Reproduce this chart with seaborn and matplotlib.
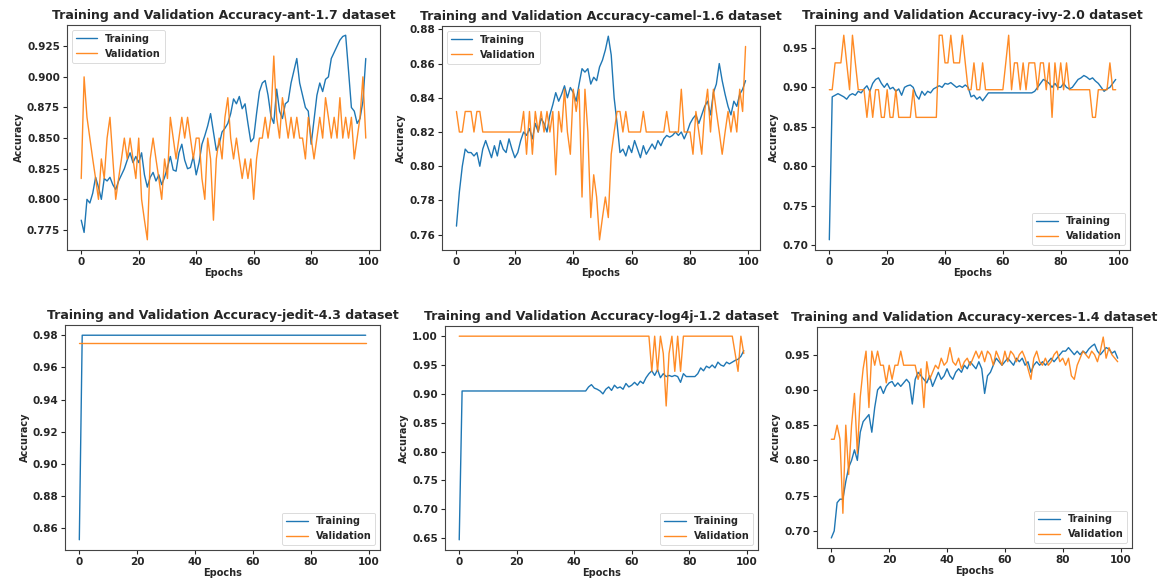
import matplotlib
matplotlib.use("Agg")
import matplotlib.pyplot as plt
import seaborn as sns
import numpy as np
import pandas as pd

sns.set_style("ticks")
plt.rcParams['font.family'] = ['DejaVu Sans']
plt.rcParams['font.weight'] = 'bold'
plt.rcParams['axes.labelweight'] = 'bold'
plt.rcParams['axes.titleweight'] = 'bold'

epochs = list(range(100))

ant_train = [0.783, 0.773, 0.800, 0.797, 0.805, 0.818, 0.810, 0.800, 0.817, 0.815,
             0.818, 0.812, 0.808, 0.815, 0.820, 0.825, 0.832, 0.838, 0.830, 0.835,
             0.830, 0.838, 0.820, 0.810, 0.818, 0.822, 0.815, 0.820, 0.812, 0.818,
             0.826, 0.835, 0.824, 0.823, 0.838, 0.845, 0.832, 0.825, 0.826, 0.835,
             0.820, 0.830, 0.845, 0.852, 0.860, 0.870, 0.855, 0.840, 0.845, 0.855,
             0.858, 0.862, 0.870, 0.882, 0.878, 0.884, 0.874, 0.878, 0.862, 0.847,
             0.850, 0.870, 0.888, 0.895, 0.897, 0.885, 0.868, 0.862, 0.890, 0.872,
             0.866, 0.878, 0.880, 0.895, 0.905, 0.915, 0.895, 0.885, 0.875, 0.872,
             0.845, 0.865, 0.885, 0.895, 0.888, 0.898, 0.900, 0.915, 0.920, 0.925,
             0.930, 0.933, 0.934, 0.905, 0.875, 0.872, 0.862, 0.866, 0.880, 0.915]
ant_val = [0.817, 0.900, 0.867, 0.850, 0.833, 0.817, 0.800, 0.833, 0.817, 0.850,
           0.867, 0.833, 0.800, 0.817, 0.833, 0.850, 0.833, 0.850, 0.833, 0.817,
           0.850, 0.800, 0.783, 0.767, 0.833, 0.850, 0.833, 0.817, 0.800, 0.833,
           0.817, 0.867, 0.850, 0.833, 0.850, 0.867, 0.850, 0.867, 0.850, 0.833,
           0.850, 0.850, 0.817, 0.800, 0.850, 0.833, 0.783, 0.833, 0.850, 0.833,
           0.867, 0.883, 0.850, 0.833, 0.850, 0.833, 0.817, 0.833, 0.817, 0.833,
           0.800, 0.833, 0.850, 0.850, 0.867, 0.850, 0.867, 0.917, 0.867, 0.850,
           0.883, 0.867, 0.850, 0.867, 0.850, 0.867, 0.850, 0.850, 0.833, 0.867,
           0.850, 0.833, 0.850, 0.867, 0.850, 0.883, 0.867, 0.850, 0.867, 0.850,
           0.883, 0.850, 0.867, 0.850, 0.867, 0.833, 0.850, 0.867, 0.900, 0.850]

camel_train = [0.765, 0.785, 0.800, 0.810, 0.808, 0.808, 0.806, 0.808, 0.800, 0.810,
               0.815, 0.810, 0.805, 0.812, 0.806, 0.815, 0.810, 0.808, 0.816, 0.810,
               0.805, 0.808, 0.815, 0.820, 0.818, 0.822, 0.816, 0.825, 0.820, 0.828,
               0.825, 0.820, 0.830, 0.836, 0.843, 0.838, 0.842, 0.847, 0.840, 0.846,
               0.843, 0.838, 0.848, 0.857, 0.855, 0.857, 0.848, 0.852, 0.850, 0.858,
               0.862, 0.868, 0.876, 0.865, 0.840, 0.825, 0.808, 0.810, 0.806, 0.812,
               0.808, 0.815, 0.810, 0.805, 0.812, 0.807, 0.810, 0.813, 0.810, 0.815,
               0.812, 0.816, 0.818, 0.817, 0.818, 0.820, 0.818, 0.820, 0.816, 0.820,
               0.825, 0.828, 0.830, 0.825, 0.830, 0.835, 0.838, 0.830, 0.843, 0.848,
               0.860, 0.850, 0.842, 0.835, 0.830, 0.838, 0.835, 0.842, 0.845, 0.850]
camel_val = [0.832, 0.820, 0.820, 0.832, 0.832, 0.832, 0.820, 0.832, 0.832, 0.820,
             0.820, 0.820, 0.820, 0.820, 0.820, 0.820, 0.820, 0.820, 0.820, 0.820,
             0.820, 0.820, 0.820, 0.832, 0.807, 0.832, 0.807, 0.832, 0.820, 0.832,
             0.820, 0.832, 0.820, 0.832, 0.795, 0.832, 0.820, 0.845, 0.820, 0.807,
             0.845, 0.832, 0.845, 0.782, 0.845, 0.820, 0.770, 0.795, 0.782, 0.757,
             0.770, 0.782, 0.770, 0.807, 0.820, 0.832, 0.832, 0.820, 0.832, 0.820,
             0.820, 0.820, 0.820, 0.820, 0.832, 0.820, 0.820, 0.820, 0.820, 0.820,
             0.820, 0.820, 0.832, 0.820, 0.820, 0.820, 0.820, 0.845, 0.820, 0.820,
             0.820, 0.807, 0.832, 0.820, 0.807, 0.832, 0.845, 0.820, 0.845, 0.832,
             0.820, 0.807, 0.820, 0.832, 0.820, 0.832, 0.820, 0.845, 0.832, 0.870]

ivy_train = [0.707, 0.888, 0.890, 0.892, 0.890, 0.888, 0.885, 0.890, 0.892, 0.890,
             0.895, 0.893, 0.898, 0.902, 0.895, 0.905, 0.910, 0.912, 0.905, 0.900,
             0.905, 0.898, 0.900, 0.895, 0.898, 0.890, 0.900, 0.902, 0.903, 0.900,
             0.890, 0.885, 0.895, 0.890, 0.895, 0.893, 0.898, 0.900, 0.902, 0.900,
             0.905, 0.904, 0.906, 0.903, 0.900, 0.902, 0.900, 0.903, 0.900, 0.888,
             0.890, 0.885, 0.888, 0.883, 0.888, 0.893, 0.893, 0.893, 0.893, 0.893,
             0.893, 0.893, 0.893, 0.893, 0.893, 0.893, 0.893, 0.893, 0.893, 0.893,
             0.893, 0.895, 0.900, 0.905, 0.910, 0.908, 0.905, 0.900, 0.905, 0.900,
             0.900, 0.905, 0.900, 0.898, 0.900, 0.905, 0.910, 0.912, 0.915, 0.913,
             0.910, 0.912, 0.908, 0.905, 0.900, 0.895, 0.898, 0.900, 0.905, 0.910]
ivy_val = [0.897, 0.897, 0.931, 0.931, 0.931, 0.966, 0.931, 0.897, 0.966, 0.931,
           0.897, 0.897, 0.897, 0.862, 0.897, 0.862, 0.897, 0.897, 0.862, 0.862,
           0.897, 0.862, 0.862, 0.897, 0.862, 0.862, 0.862, 0.862, 0.862, 0.897,
           0.862, 0.862, 0.862, 0.862, 0.862, 0.862, 0.862, 0.862, 0.966, 0.966,
           0.931, 0.931, 0.966, 0.931, 0.931, 0.931, 0.966, 0.931, 0.897, 0.897,
           0.931, 0.897, 0.897, 0.931, 0.897, 0.897, 0.897, 0.897, 0.897, 0.897,
           0.897, 0.931, 0.966, 0.897, 0.931, 0.931, 0.897, 0.931, 0.897, 0.931,
           0.931, 0.931, 0.897, 0.931, 0.931, 0.897, 0.931, 0.862, 0.931, 0.897,
           0.931, 0.897, 0.931, 0.897, 0.897, 0.897, 0.897, 0.897, 0.897, 0.897,
           0.897, 0.862, 0.862, 0.897, 0.897, 0.897, 0.897, 0.931, 0.897, 0.897]

jedit_train = [0.853, 0.980, 0.980, 0.980, 0.980, 0.980, 0.980, 0.980, 0.980, 0.980,
               0.980, 0.980, 0.980, 0.980, 0.980, 0.980, 0.980, 0.980, 0.980, 0.980,
               0.980, 0.980, 0.980, 0.980, 0.980, 0.980, 0.980, 0.980, 0.980, 0.980,
               0.980, 0.980, 0.980, 0.980, 0.980, 0.980, 0.980, 0.980, 0.980, 0.980,
               0.980, 0.980, 0.980, 0.980, 0.980, 0.980, 0.980, 0.980, 0.980, 0.980,
               0.980, 0.980, 0.980, 0.980, 0.980, 0.980, 0.980, 0.980, 0.980, 0.980,
               0.980, 0.980, 0.980, 0.980, 0.980, 0.980, 0.980, 0.980, 0.980, 0.980,
               0.980, 0.980, 0.980, 0.980, 0.980, 0.980, 0.980, 0.980, 0.980, 0.980,
               0.980, 0.980, 0.980, 0.980, 0.980, 0.980, 0.980, 0.980, 0.980, 0.980,
               0.980, 0.980, 0.980, 0.980, 0.980, 0.980, 0.980, 0.980, 0.980, 0.980]
jedit_val = [0.975, 0.975, 0.975, 0.975, 0.975, 0.975, 0.975, 0.975, 0.975, 0.975,
             0.975, 0.975, 0.975, 0.975, 0.975, 0.975, 0.975, 0.975, 0.975, 0.975,
             0.975, 0.975, 0.975, 0.975, 0.975, 0.975, 0.975, 0.975, 0.975, 0.975,
             0.975, 0.975, 0.975, 0.975, 0.975, 0.975, 0.975, 0.975, 0.975, 0.975,
             0.975, 0.975, 0.975, 0.975, 0.975, 0.975, 0.975, 0.975, 0.975, 0.975,
             0.975, 0.975, 0.975, 0.975, 0.975, 0.975, 0.975, 0.975, 0.975, 0.975,
             0.975, 0.975, 0.975, 0.975, 0.975, 0.975, 0.975, 0.975, 0.975, 0.975,
             0.975, 0.975, 0.975, 0.975, 0.975, 0.975, 0.975, 0.975, 0.975, 0.975,
             0.975, 0.975, 0.975, 0.975, 0.975, 0.975, 0.975, 0.975, 0.975, 0.975,
             0.975, 0.975, 0.975, 0.975, 0.975, 0.975, 0.975, 0.975, 0.975, 0.975]

log4j_train = [0.647, 0.905, 0.905, 0.905, 0.905, 0.905, 0.905, 0.905, 0.905, 0.905,
               0.905, 0.905, 0.905, 0.905, 0.905, 0.905, 0.905, 0.905, 0.905, 0.905,
               0.905, 0.905, 0.905, 0.905, 0.905, 0.905, 0.905, 0.905, 0.905, 0.905,
               0.905, 0.905, 0.905, 0.905, 0.905, 0.905, 0.905, 0.905, 0.905, 0.905,
               0.905, 0.905, 0.905, 0.905, 0.905, 0.912, 0.916, 0.910, 0.908, 0.905,
               0.900, 0.908, 0.912, 0.906, 0.915, 0.910, 0.912, 0.908, 0.918, 0.912,
               0.915, 0.920, 0.915, 0.922, 0.918, 0.928, 0.935, 0.940, 0.932, 0.942,
               0.928, 0.935, 0.930, 0.932, 0.930, 0.932, 0.930, 0.920, 0.935, 0.930,
               0.930, 0.930, 0.930, 0.935, 0.945, 0.940, 0.948, 0.945, 0.950, 0.945,
               0.955, 0.950, 0.948, 0.955, 0.952, 0.955, 0.958, 0.960, 0.965, 0.975]
log4j_val = [1.000, 1.000, 1.000, 1.000, 1.000, 1.000, 1.000, 1.000, 1.000, 1.000,
             1.000, 1.000, 1.000, 1.000, 1.000, 1.000, 1.000, 1.000, 1.000, 1.000,
             1.000, 1.000, 1.000, 1.000, 1.000, 1.000, 1.000, 1.000, 1.000, 1.000,
             1.000, 1.000, 1.000, 1.000, 1.000, 1.000, 1.000, 1.000, 1.000, 1.000,
             1.000, 1.000, 1.000, 1.000, 1.000, 1.000, 1.000, 1.000, 1.000, 1.000,
             1.000, 1.000, 1.000, 1.000, 1.000, 1.000, 1.000, 1.000, 1.000, 1.000,
             1.000, 1.000, 1.000, 1.000, 1.000, 1.000, 1.000, 0.939, 1.000, 0.939,
             1.000, 0.970, 0.879, 0.970, 1.000, 0.939, 1.000, 0.939, 1.000, 1.000,
             1.000, 1.000, 1.000, 1.000, 1.000, 1.000, 1.000, 1.000, 1.000, 1.000,
             1.000, 1.000, 1.000, 1.000, 1.000, 1.000, 0.970, 0.939, 1.000, 0.970]

xerces_train = [0.690, 0.700, 0.740, 0.745, 0.745, 0.770, 0.790, 0.800, 0.815, 0.800,
                0.840, 0.855, 0.860, 0.865, 0.840, 0.875, 0.900, 0.905, 0.895, 0.905,
                0.910, 0.912, 0.905, 0.910, 0.905, 0.910, 0.915, 0.910, 0.880, 0.915,
                0.925, 0.920, 0.915, 0.910, 0.920, 0.905, 0.915, 0.925, 0.915, 0.920,
                0.930, 0.920, 0.915, 0.925, 0.930, 0.925, 0.935, 0.930, 0.940, 0.935,
                0.930, 0.940, 0.930, 0.895, 0.920, 0.925, 0.935, 0.945, 0.940, 0.935,
                0.940, 0.945, 0.940, 0.935, 0.945, 0.940, 0.945, 0.935, 0.940, 0.925,
                0.935, 0.940, 0.935, 0.940, 0.935, 0.940, 0.945, 0.940, 0.945, 0.950,
                0.955, 0.955, 0.960, 0.955, 0.950, 0.955, 0.950, 0.955, 0.952, 0.958,
                0.962, 0.965, 0.955, 0.950, 0.955, 0.960, 0.958, 0.952, 0.955, 0.945]
xerces_val = [0.830, 0.830, 0.850, 0.830, 0.725, 0.850, 0.780, 0.850, 0.895, 0.810,
              0.890, 0.930, 0.955, 0.875, 0.955, 0.935, 0.955, 0.935, 0.935, 0.910,
              0.935, 0.915, 0.935, 0.935, 0.955, 0.935, 0.935, 0.935, 0.935, 0.935,
              0.915, 0.930, 0.875, 0.940, 0.915, 0.925, 0.935, 0.930, 0.945, 0.935,
              0.940, 0.960, 0.940, 0.935, 0.945, 0.930, 0.940, 0.945, 0.935, 0.945,
              0.955, 0.945, 0.955, 0.940, 0.955, 0.950, 0.935, 0.955, 0.945, 0.935,
              0.955, 0.940, 0.955, 0.950, 0.940, 0.950, 0.955, 0.945, 0.930, 0.915,
              0.945, 0.955, 0.940, 0.935, 0.945, 0.935, 0.940, 0.950, 0.955, 0.940,
              0.945, 0.935, 0.945, 0.920, 0.915, 0.935, 0.945, 0.955, 0.950, 0.945,
              0.955, 0.950, 0.940, 0.955, 0.975, 0.945, 0.960, 0.950, 0.945, 0.940]

datasets = ["ant-1.7", "camel-1.6", "ivy-2.0", "jedit-4.3", "log4j-1.2", "xerces-1.4"]
train_series = [ant_train, camel_train, ivy_train, jedit_train, log4j_train, xerces_train]
val_series = [ant_val, camel_val, ivy_val, jedit_val, log4j_val, xerces_val]
legend_locs = ["upper left", "upper left", "lower right", "lower right", "lower right", "lower right"]

W, H = 1164, 585
fig = plt.figure(figsize=(W / 100, H / 100), dpi=100)

# axes boxes in pixel coords: left, top, right, bottom
boxes = [(67, 25, 380, 250), (442, 26, 760, 250), (815, 25, 1130, 250),
         (65, 325, 380, 550), (445, 326, 758, 550), (817, 327, 1132, 548)]

blue = "#1f77b4"
orange = "#ff7f0e"

for i, name in enumerate(datasets):
    l, t, r, b = boxes[i]
    ax = fig.add_axes([l / W, 1 - b / H, (r - l) / W, (b - t) / H])
    df = pd.DataFrame({"Epochs": epochs, "Training": train_series[i], "Validation": val_series[i]})
    sns.lineplot(data=df, x="Epochs", y="Training", ax=ax, color=blue, lw=1.0, label="Training")
    sns.lineplot(data=df, x="Epochs", y="Validation", ax=ax, color=orange, lw=1.0, label="Validation", alpha=0.9)
    ax.set_title(f"Training and Validation Accuracy-{name} dataset", fontsize=9, fontweight="bold", pad=4)
    ax.set_xlabel("Epochs", fontsize=7, fontweight="bold", labelpad=1)
    ax.set_ylabel("Accuracy", fontsize=7, fontweight="bold", labelpad=2)
    ax.tick_params(labelsize=7.5, length=3, width=0.8, pad=2)
    ax.set_xticks([0, 20, 40, 60, 80, 100])
    for s in ax.spines.values():
        s.set_linewidth(0.8)
        s.set_color("#444444")
    leg = ax.legend(loc=legend_locs[i], fontsize=7, frameon=True, handlelength=2.2)
    leg.get_frame().set_linewidth(0.6)

fig.savefig("out.png", dpi=100)
